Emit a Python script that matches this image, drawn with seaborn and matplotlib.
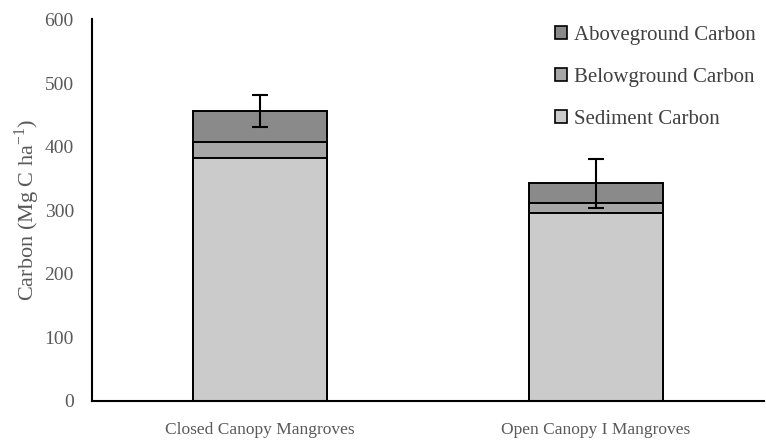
import pandas as pd
import matplotlib.pyplot as plt
import seaborn as sns
from matplotlib.patches import Patch

# Carbon stocks (Mg C ha-1)
categories = ["Closed Canopy Mangroves", "Open Canopy I Mangroves"]
sediment = [382, 296]
belowground = [26, 16]
aboveground = [48, 30]
total_err = [25, 38]

labels = ["Aboveground Carbon", "Belowground Carbon", "Sediment Carbon"]
colors = ["#8a8a8a", "#a6a6a6", "#cbcbcb"]

df = pd.DataFrame({
    "site": categories,
    "sediment": sediment,
    "below": belowground,
    "above": aboveground,
})
df["sed_below"] = df["sediment"] + df["below"]
df["total"] = df["sed_below"] + df["above"]

sns.set_style("white")
plt.rcParams["font.family"] = ["Liberation Serif", "DejaVu Serif"]

fig = plt.figure(figsize=(7.66, 4.42), dpi=100)
ax = fig.add_axes([0.12, 0.093, 0.877, 0.863])

# stacked look: draw cumulative totals from tallest to shortest
for col, c in zip(["total", "sed_below", "sediment"], colors):
    sns.barplot(data=df, x="site", y=col, color=c, width=0.4,
                edgecolor="black", linewidth=1.4, ax=ax, saturation=1)

ax.errorbar(range(len(categories)), df["total"], yerr=total_err, fmt="none",
            ecolor="black", elinewidth=1.5, capsize=6, capthick=1.5)

ax.set_xlim(-0.5, 1.5)
ax.set_ylim(0, 600)
ax.set_yticks(range(0, 601, 100))
ax.set_xlabel("")
ax.set_ylabel("Carbon (Mg C ha$^{\\mathregular{-1}}$)", fontsize=16, color="#595959", labelpad=2)
ax.tick_params(axis="y", length=0, labelsize=14, colors="#595959", pad=13)
ax.tick_params(axis="x", length=0, labelsize=12.5, colors="#595959", pad=15)

sns.despine(ax=ax)
for s in ["left", "bottom"]:
    ax.spines[s].set_color("black")
    ax.spines[s].set_linewidth(1.5)

handles = [Patch(facecolor=c, edgecolor="black", linewidth=1.2) for c in colors]
leg = ax.legend(handles, labels, loc="upper right", bbox_to_anchor=(1.0, 1.005),
                frameon=False, prop={"family": "Liberation Serif", "size": 15},
                labelspacing=1.1, handlelength=0.6, handleheight=0.6,
                handletextpad=0.3, borderaxespad=0)
for t in leg.get_texts():
    t.set_color("#404040")

fig.savefig("out.png", dpi=100)
